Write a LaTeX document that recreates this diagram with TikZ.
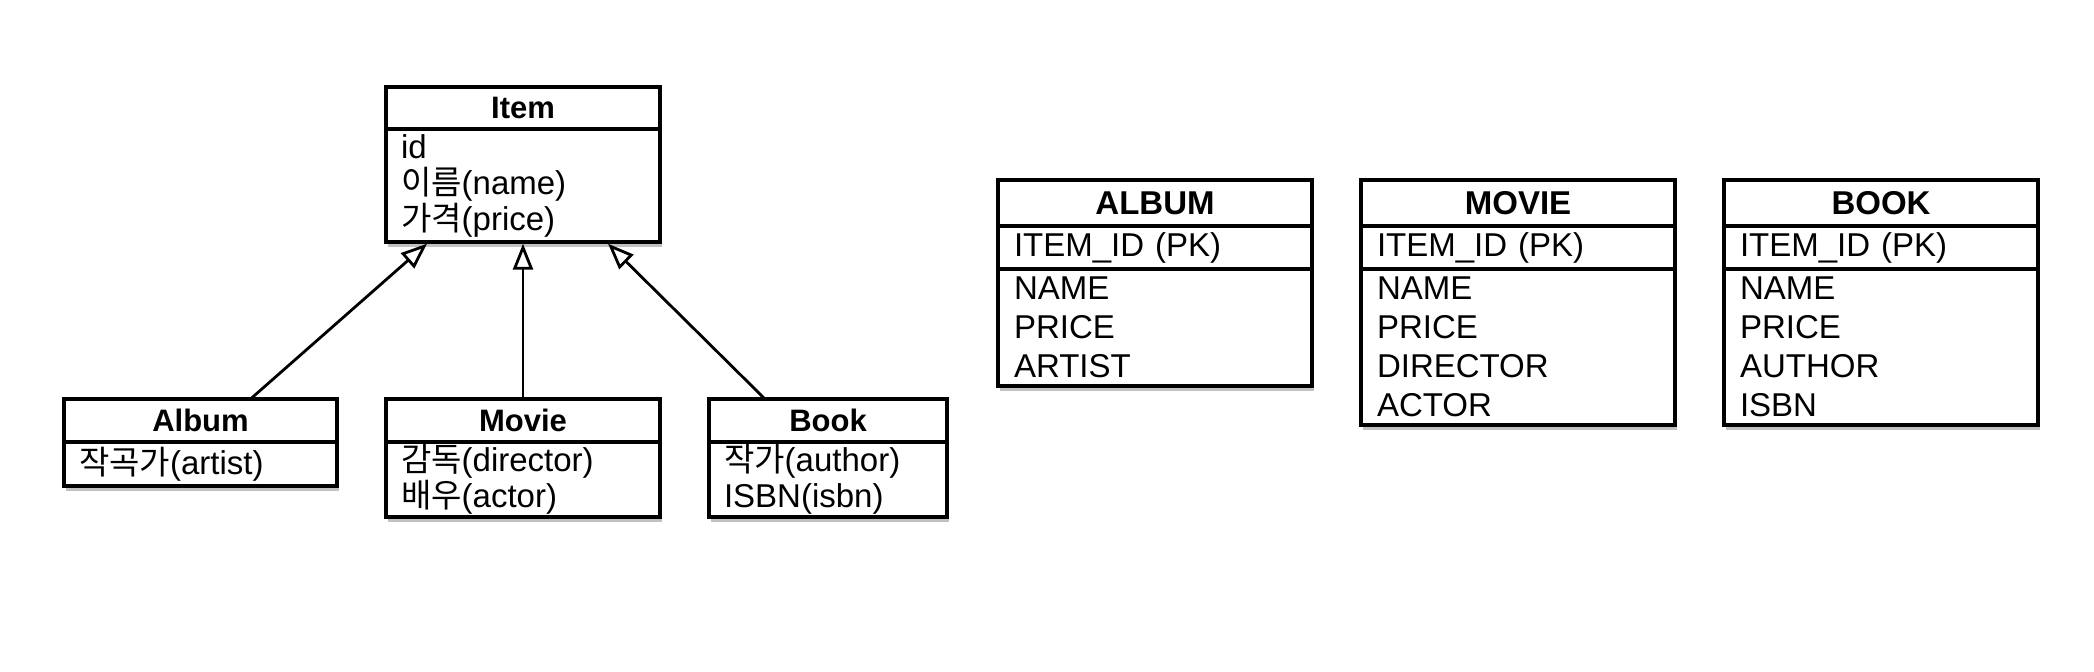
\documentclass[tikz,border=0pt]{standalone}
\usepackage{fontspec}
\setmainfont{Liberation Sans}
\newfontfamily\kr{Noto Sans CJK KR}
\usetikzlibrary{arrows.meta,shadows}
\tikzset{
  box/.style={draw=black, line width=3.4pt, fill=white, inner sep=0pt, outer sep=0pt,
    drop shadow={shadow xshift=1.5pt, shadow yshift=-5pt, opacity=0.35, fill=black!70}},
  clshead/.style={box, anchor=north west, minimum height=42pt,
    font=\fontsize{31}{31}\selectfont\bfseries},
  clsbody/.style={box, anchor=north west, inner xsep=15pt, align=left,
    font=\fontsize{33}{36}\selectfont},
  tblhead/.style={box, anchor=north west, minimum width=314pt, minimum height=46pt,
    font=\fontsize{33}{33}\selectfont\bfseries},
  tblpk/.style={box, anchor=north west, minimum width=314pt, minimum height=43pt,
    inner xsep=16pt, text width=282pt, align=left, font=\fontsize{33}{39}\selectfont},
  tblbody/.style={box, anchor=north west, minimum width=314pt,
    inner xsep=16pt, text width=282pt, align=left, font=\fontsize{33}{39}\selectfont},
  inh/.style={line width=2.8pt, -{Triangle[length=26pt,width=20pt,fill=white]}}
}
\begin{document}
\begin{tikzpicture}[x=1pt,y=-1pt]
\useasboundingbox (0,0) rectangle (2094,672);
% class diagram
\node[clshead, minimum width=274pt] (item) at (386,87) {Item};
\node[clsbody, minimum width=274pt, text width=244pt, minimum height=113pt] (itembody) at (item.south west)
  {id\\{\kr 이름}(name)\\{\kr 가격}(price)};

\node[clshead, minimum width=273pt, minimum height=43pt] (album) at (64,399) {Album};
\node[clsbody, minimum width=273pt, text width=243pt, minimum height=44pt] (albumbody) at (album.south west)
  {{\kr 작곡가}(artist)};

\node[clshead, minimum width=274pt, minimum height=43pt] (movie) at (386,399) {Movie};
\node[clsbody, minimum width=274pt, text width=244pt, minimum height=75pt] (moviebody) at (movie.south west)
  {{\kr 감독}(director)\\{\kr 배우}(actor)};

\node[clshead, minimum width=238pt, minimum height=43pt] (book) at (709,399) {Book};
\node[clsbody, minimum width=238pt, text width=208pt, minimum height=75pt] (bookbody) at (book.south west)
  {{\kr 작가}(author)\\ISBN(isbn)};

\draw[inh] ([xshift=50pt]album.north) -- ([xshift=-96pt,yshift=-1.7pt]itembody.south);
\draw[inh] (movie.north) -- ([yshift=-1.7pt]itembody.south);
\draw[inh] ([xshift=-63pt]book.north) -- ([xshift=85pt,yshift=-1.7pt]itembody.south);

% tables
\node[tblhead] (talbum) at (998,180) {ALBUM};
\node[tblpk] (talbumpk) at (talbum.south west) {ITEM\_ID (PK)};
\node[tblbody, minimum height=117pt] (talbumbody) at (talbumpk.south west) {NAME\\PRICE\\ARTIST};

\node[tblhead] (tmovie) at (1361,180) {MOVIE};
\node[tblpk] (tmoviepk) at (tmovie.south west) {ITEM\_ID (PK)};
\node[tblbody, minimum height=156pt] (tmoviebody) at (tmoviepk.south west) {NAME\\PRICE\\DIRECTOR\\ACTOR};

\node[tblhead] (tbook) at (1724,180) {BOOK};
\node[tblpk] (tbookpk) at (tbook.south west) {ITEM\_ID (PK)};
\node[tblbody, minimum height=156pt] (tbookbody) at (tbookpk.south west) {NAME\\PRICE\\AUTHOR\\ISBN};
\end{tikzpicture}
\end{document}
